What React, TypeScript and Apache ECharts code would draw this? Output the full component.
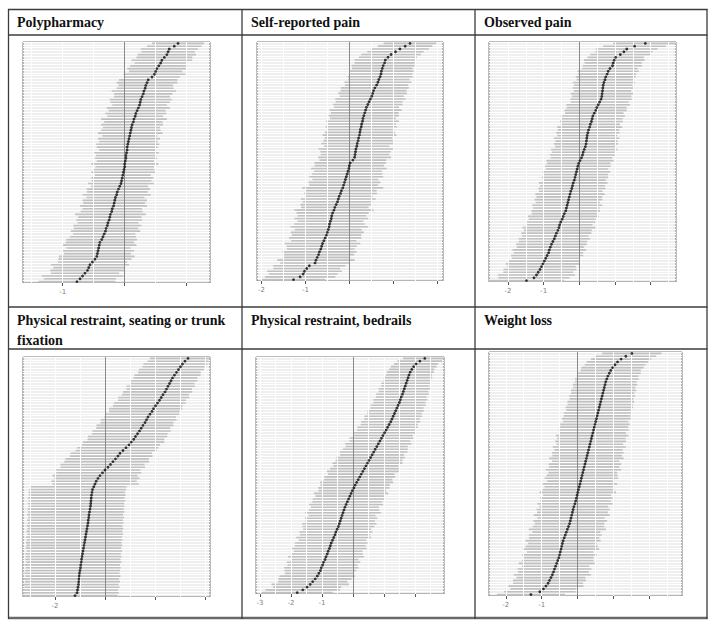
import React, { useEffect, useRef } from "react";
import * as echarts from "echarts";

// ---------- titles ----------
const titles = [
  "Polypharmacy",
  "Self-reported pain",
  "Observed pain",
  "Physical restraint, seating or trunk\nfixation",
  "Physical restraint, bedrails",
  "Weight loss",
];

// ---------- data (rows ordered bottom -> top) ----------
const est1 = [-0.77,-0.72,-0.68,-0.64,-0.6,-0.58,-0.56,-0.52,-0.48,-0.45,-0.44,-0.43,-0.42,-0.41,-0.4,-0.37,-0.35,-0.33,-0.31,-0.3,-0.28,-0.27,-0.25,-0.24,-0.23,-0.21,-0.2,-0.18,-0.17,-0.16,-0.15,-0.13,-0.12,-0.1,-0.08,-0.06,-0.05,-0.04,-0.03,-0.02,-0.01,0,0,0.01,0.02,0.02,0.03,0.04,0.04,0.05,0.06,0.07,0.08,0.09,0.1,0.11,0.12,0.14,0.15,0.17,0.18,0.2,0.22,0.24,0.25,0.26,0.28,0.3,0.31,0.33,0.34,0.36,0.38,0.44,0.48,0.5,0.52,0.55,0.58,0.6,0.64,0.68,0.7,0.72,0.8,0.86];
const hw1 = [0.62,0.58,0.66,0.55,0.6,0.57,0.63,0.56,0.59,0.61,0.54,0.58,0.52,0.6,0.55,0.57,0.53,0.5,0.56,0.52,0.55,0.49,0.53,0.51,0.57,0.5,0.48,0.54,0.5,0.52,0.47,0.55,0.49,0.51,0.46,0.53,0.48,0.5,0.45,0.52,0.49,0.47,0.54,0.46,0.5,0.48,0.52,0.45,0.49,0.51,0.47,0.5,0.44,0.52,0.48,0.46,0.5,0.47,0.53,0.45,0.49,0.46,0.51,0.44,0.48,0.5,0.45,0.47,0.52,0.46,0.44,0.49,0.47,0.45,0.5,0.43,0.48,0.46,0.42,0.49,0.45,0.47,0.43,0.46,0.44,0.42];

const est2 = [-1.27,-1.12,-1.05,-1.02,-0.97,-0.91,-0.78,-0.76,-0.73,-0.7,-0.68,-0.65,-0.63,-0.61,-0.58,-0.55,-0.52,-0.5,-0.48,-0.46,-0.45,-0.43,-0.41,-0.4,-0.38,-0.35,-0.33,-0.3,-0.27,-0.25,-0.23,-0.2,-0.18,-0.15,-0.13,-0.11,-0.09,-0.07,-0.05,-0.03,-0.01,0,0.02,0.08,0.12,0.13,0.14,0.15,0.17,0.18,0.2,0.21,0.23,0.24,0.25,0.27,0.28,0.3,0.31,0.33,0.35,0.37,0.39,0.42,0.45,0.48,0.51,0.53,0.55,0.58,0.62,0.65,0.67,0.7,0.72,0.73,0.75,0.77,0.8,0.82,0.88,0.95,1.05,1.15,1.27,1.38];
const hw2 = [0.72,0.8,0.78,0.85,0.76,0.82,0.79,0.88,0.75,0.81,0.84,0.77,0.8,0.86,0.74,0.82,0.79,0.83,0.76,0.88,0.8,0.75,0.84,0.78,0.82,0.9,0.77,0.81,0.79,0.85,0.76,0.83,0.8,0.92,0.78,0.82,0.75,0.84,0.8,0.77,0.86,0.79,0.81,0.76,0.83,0.78,0.8,0.85,0.74,0.82,0.79,0.77,0.84,0.8,0.76,0.81,0.78,0.83,0.75,0.8,0.77,0.82,0.74,0.79,0.76,0.8,0.73,0.78,0.75,0.77,0.72,0.76,0.7,0.74,0.71,0.73,0.69,0.72,0.68,0.7,0.66,0.68,0.64,0.66,0.62,0.6];

const est3 = [-1.48,-1.27,-1.2,-1.15,-1.1,-1.06,-1.02,-0.98,-0.94,-0.9,-0.86,-0.84,-0.81,-0.78,-0.74,-0.7,-0.67,-0.64,-0.6,-0.57,-0.55,-0.52,-0.48,-0.45,-0.42,-0.38,-0.36,-0.34,-0.32,-0.3,-0.28,-0.26,-0.24,-0.21,-0.19,-0.17,-0.14,-0.12,-0.1,-0.08,-0.06,-0.04,-0.02,0.02,0.06,0.09,0.11,0.14,0.17,0.19,0.2,0.21,0.22,0.24,0.26,0.29,0.31,0.34,0.36,0.38,0.42,0.46,0.49,0.53,0.57,0.61,0.63,0.64,0.65,0.66,0.67,0.69,0.72,0.74,0.78,0.81,0.86,0.93,0.95,0.98,1.02,1.15,1.25,1.33,1.55,1.85];
const hw3 = [1.05,1.0,1.08,0.98,1.02,0.96,1.04,0.99,0.95,1.01,0.97,1.03,0.94,0.99,0.96,1.0,0.93,0.98,0.95,1.02,0.92,0.97,0.94,0.99,0.91,0.96,0.93,0.98,0.9,0.95,0.92,0.97,0.89,0.94,0.91,0.96,0.88,0.93,0.9,0.95,0.87,0.92,0.89,0.94,0.86,0.91,0.88,0.93,0.85,0.9,0.87,0.92,0.84,0.89,0.86,0.91,0.83,0.88,0.85,0.9,0.82,0.87,0.84,0.89,0.81,0.86,0.83,0.88,0.8,0.85,0.82,0.87,0.79,0.84,0.81,0.86,0.78,0.83,0.8,0.85,0.79,0.84,0.8,0.86,0.88,0.9];

const est4 = [-1.2,-1.12,-1.1,-1.08,-1.06,-1.05,-1.04,-1.03,-1.02,-1.0,-0.98,-0.97,-0.95,-0.94,-0.92,-0.9,-0.88,-0.86,-0.84,-0.82,-0.8,-0.78,-0.76,-0.74,-0.72,-0.7,-0.68,-0.67,-0.65,-0.64,-0.62,-0.6,-0.58,-0.57,-0.56,-0.55,-0.54,-0.52,-0.5,-0.45,-0.4,-0.35,-0.28,-0.2,-0.1,0,0.12,0.22,0.32,0.42,0.52,0.6,0.72,0.84,0.96,1.05,1.15,1.22,1.3,1.38,1.45,1.52,1.6,1.66,1.72,1.8,1.88,1.94,2.02,2.1,2.18,2.25,2.32,2.4,2.46,2.52,2.58,2.64,2.7,2.78,2.86,2.94,3.02,3.1,3.2,3.32];
// seating / trunk fixation intervals are asymmetric: distance below and above the estimate
const low4 = [2.1,2.13,2.18,2.14,2.2,2.15,2.2,2.15,2.2,2.2,2.19,2.24,2.2,2.25,2.24,2.28,2.25,2.31,2.3,2.34,2.32,2.37,2.35,2.4,2.38,2.43,2.41,2.45,2.43,2.47,2.45,2.5,2.48,2.52,2.49,2.53,2.5,2.54,2.53,2.55,1.7,1.8,1.75,1.9,1.85,1.95,1.9,2.0,1.95,2.0,1.92,1.98,1.9,1.95,1.88,1.93,1.85,1.9,1.82,1.88,1.8,1.86,1.78,1.83,1.75,1.8,1.72,1.78,1.7,1.74,1.66,1.72,1.64,1.68,1.6,1.66,1.58,1.62,1.56,1.6,1.54,1.58,1.52,1.56,1.5,1.52];
const high4 = [1.7,1.67,1.62,1.66,1.6,1.65,1.6,1.65,1.6,1.6,1.61,1.57,1.6,1.56,1.58,1.53,1.56,1.51,1.53,1.48,1.5,1.46,1.48,1.43,1.45,1.4,1.42,1.39,1.41,1.37,1.39,1.35,1.36,1.33,1.36,1.33,1.36,1.32,1.34,1.31,1.75,1.62,1.66,1.5,1.55,1.42,1.48,1.36,1.44,1.33,1.38,1.28,1.35,1.3,1.24,1.32,1.22,1.27,1.2,1.25,1.16,1.22,1.14,1.2,1.12,1.17,1.1,1.15,1.08,1.13,1.06,1.12,1.04,1.09,1.02,1.08,1.0,1.06,0.99,1.04,0.97,1.02,0.96,1.0,0.95,0.9];

const est5 = [-1.8,-1.62,-1.48,-1.38,-1.3,-1.22,-1.15,-1.1,-1.05,-1.02,-0.98,-0.95,-0.9,-0.87,-0.83,-0.8,-0.76,-0.73,-0.7,-0.66,-0.62,-0.58,-0.55,-0.51,-0.47,-0.44,-0.41,-0.38,-0.35,-0.32,-0.29,-0.26,-0.22,-0.18,-0.14,-0.1,-0.06,-0.02,0.03,0.07,0.12,0.17,0.22,0.27,0.32,0.37,0.42,0.47,0.52,0.57,0.62,0.67,0.72,0.77,0.82,0.87,0.92,0.97,1.02,1.07,1.12,1.17,1.22,1.26,1.3,1.34,1.38,1.42,1.46,1.5,1.53,1.56,1.6,1.63,1.66,1.69,1.72,1.75,1.78,1.81,1.85,1.9,1.96,2.04,2.16,2.32];
const hw5 = [1.15,1.2,1.1,1.25,1.12,1.18,1.22,1.1,1.16,1.2,1.13,1.19,1.08,1.22,1.15,1.11,1.2,1.14,1.17,1.09,1.21,1.13,1.18,1.1,1.16,1.2,1.12,1.17,1.08,1.22,1.14,1.1,1.19,1.13,1.16,1.11,1.2,1.09,1.15,1.12,1.18,1.1,1.14,1.07,1.16,1.11,1.05,1.13,1.08,1.1,1.03,1.09,1.05,1.0,1.07,0.98,1.03,0.96,1.0,0.94,0.98,0.92,0.95,0.9,0.93,0.88,0.91,0.86,0.89,0.84,0.87,0.82,0.85,0.8,0.83,0.78,0.8,0.76,0.78,0.74,0.76,0.73,0.74,0.71,0.72,0.7];

const est6 = [-1.3,-1.05,-0.95,-0.88,-0.82,-0.78,-0.74,-0.7,-0.67,-0.64,-0.61,-0.58,-0.55,-0.52,-0.5,-0.48,-0.46,-0.44,-0.42,-0.4,-0.37,-0.34,-0.31,-0.28,-0.25,-0.22,-0.2,-0.18,-0.16,-0.14,-0.12,-0.1,-0.07,-0.05,-0.03,-0.01,0.01,0.03,0.05,0.07,0.09,0.11,0.13,0.15,0.17,0.19,0.21,0.23,0.25,0.27,0.29,0.31,0.33,0.35,0.37,0.39,0.41,0.43,0.45,0.47,0.49,0.51,0.53,0.55,0.57,0.59,0.61,0.63,0.65,0.67,0.69,0.71,0.73,0.75,0.77,0.79,0.82,0.85,0.89,0.93,0.98,1.05,1.12,1.22,1.35,1.52];
const hw6 = [0.95,1.0,0.92,1.05,0.98,1.02,0.96,1.08,0.99,1.03,0.94,1.06,1.0,0.97,1.04,0.93,1.07,1.01,0.96,1.05,0.98,1.02,0.95,1.08,1.0,0.97,1.03,0.94,1.06,0.99,1.02,0.96,1.05,0.98,1.01,0.95,1.07,1.0,0.97,1.04,0.93,1.03,0.99,0.96,1.05,0.98,1.01,0.94,1.04,0.97,1.0,0.95,1.02,0.93,0.99,0.96,1.01,0.92,0.98,0.95,0.97,0.91,0.96,0.93,0.95,0.9,0.94,0.91,0.93,0.89,0.92,0.88,0.91,0.87,0.9,0.86,0.89,0.85,0.88,0.84,0.87,0.85,0.86,0.84,0.85,0.83];

// ---------- axis ticks / labels ----------
const ticks1 = [-1, 0, 1];
const labels1 = ["-1"];
const grid1 = [-1.5, -1, -0.5, 0.5, 1];
const ticks2 = [-2, -1, 0, 1, 2];
const labels2 = ["-2", "-1"];
const grid2 = [-2, -1.5, -1, -0.5, 0.5, 1, 1.5, 2];
const ticks3 = [-2, -1, 0, 1, 2];
const labels3 = ["-2", "-1"];
const grid3 = [-2, -1.5, -1, -0.5, 0.5, 1, 1.5, 2, 2.5];
const ticks4 = [-2, 0, 2, 4];
const labels4 = ["-2"];
const grid4 = [-3, -2, -1, 1, 2, 3, 4];
const ticks5 = [-3, -2, -1, 0, 1, 2];
const labels5 = ["-3", "-2", "-1"];
const grid5 = [-3, -2.5, -2, -1.5, -1, -0.5, 0.5, 1, 1.5, 2, 2.5];
const ticks6 = [-2, -1, 0, 1, 2];
const labels6 = ["-2", "-1"];
const grid6 = [-2, -1.5, -1, -0.5, 0.5, 1, 1.5, 2, 2.5];

const panels = [
  { est: est1, lw: hw1, hi: hw1, ticks: ticks1, labels: labels1, gl: grid1, min: -1.64, max: 1.376, box: [23, 42, 187, 241] },
  { est: est2, lw: hw2, hi: hw2, ticks: ticks2, labels: labels2, gl: grid2, min: -2.1, max: 2.13, box: [257, 42, 186, 239] },
  { est: est3, lw: hw3, hi: hw3, ticks: ticks3, labels: labels3, gl: grid3, min: -2.53, max: 2.71, box: [489, 42, 187, 240] },
  { est: est4, lw: low4, hi: high4, ticks: ticks4, labels: labels4, gl: grid4, min: -3.28, max: 4.2, box: [23, 357, 187, 240] },
  { est: est5, lw: hw5, hi: hw5, ticks: ticks5, labels: labels5, gl: grid5, min: -3.13, max: 2.94, box: [256, 357, 188, 237] },
  { est: est6, lw: hw6, hi: hw6, ticks: ticks6, labels: labels6, gl: grid6, min: -2.47, max: 2.92, box: [489, 352, 193, 244] },
];

const titlePos = [
  [17, 22], [251, 22], [484, 22], [17, 330], [251, 320], [484, 320],
];

export default function App() {
  const ref = useRef<HTMLDivElement>(null);
  useEffect(() => {
    document.body.style.margin = "0";
    const chart = echarts.init(ref.current!, null, { renderer: "svg" });
    const grids: any[] = [];
    const xAxes: any[] = [];
    const yAxes: any[] = [];
    const series: any[] = [];
    panels.forEach((p, i) => {
      const [l, t, w, h] = p.box;
      const rows = p.est.map((_, k) => String(k + 1));
      grids.push({
        left: l, top: t, width: w, height: h, show: true,
        backgroundColor: "#efefef", borderColor: "#7a7a7a", borderWidth: 1,
      });
      xAxes.push({
        type: "value", gridIndex: i, min: p.min, max: p.max,
        axisLine: { show: false },
        axisTick: { show: true, customValues: p.ticks, length: 3, lineStyle: { color: "#555", width: 1 } },
        axisLabel: {
          customValues: p.ticks, margin: 5,
          formatter: (v: number) => (p.labels.includes(String(v)) ? "{t|" + String(v) + "}" : ""),
          rich: { t: { fontSize: 7, color: "#808080", fontFamily: "DejaVu Sans" } },
        },
        splitLine: { show: false },
      });
      yAxes.push({
        type: "category", gridIndex: i, data: rows, boundaryGap: true,
        axisLine: { show: false }, axisTick: { show: false }, axisLabel: { show: false },
        splitLine: { show: true, interval: 0, lineStyle: { color: "#ffffff", width: 1 } },
      });
      // vertical grid lines
      series.push({
        type: "line", xAxisIndex: i, yAxisIndex: i, data: [], z: 1, silent: true,
        markLine: {
          silent: true, symbol: ["none", "none"], label: { show: false },
          lineStyle: { color: "#ffffff", width: 1, type: "solid" },
          data: p.gl.map((v) => ({ xAxis: v })),
        },
      });
      // interval bars
      series.push({
        type: "custom", xAxisIndex: i, yAxisIndex: i, z: 3, clip: true,
        data: p.est.map((e, k) => [e - p.lw[k], e + p.hi[k], k]),
        renderItem: (params: any, api: any) => {
          const y = api.value(2);
          const a = api.coord([api.value(0), y]);
          const b = api.coord([api.value(1), y]);
          const bh = api.size([0, 1])[1] * 0.58;
          return {
            type: "rect",
            shape: { x: a[0], y: a[1] - bh / 2, width: b[0] - a[0], height: bh },
            style: { fill: "#c0c0c0" },
          };
        },
      });
      // zero reference line
      series.push({
        type: "line", xAxisIndex: i, yAxisIndex: i, data: [], z: 4, silent: true,
        markLine: {
          silent: true, symbol: ["none", "none"], label: { show: false },
          lineStyle: { color: "#8a8a8a", width: 1, type: "solid" },
          data: [{ xAxis: 0 }],
        },
      });
      // estimates
      series.push({
        type: "scatter", xAxisIndex: i, yAxisIndex: i, z: 5, symbolSize: 2.8,
        itemStyle: { color: "#0a0a0a" },
        data: p.est.map((e, k) => [e, k]),
      });
    });

    const stroke = "#3c3c3c";
    const graphic: any[] = [
      { type: "rect", shape: { x: 0, y: 0, width: 716, height: 627 }, style: { fill: "#ffffff" }, z: -10 },
      { type: "line", shape: { x1: 8, y1: 9.5, x2: 707.5, y2: 9.5 }, style: { stroke, lineWidth: 1.3 } },
      { type: "line", shape: { x1: 8, y1: 35, x2: 707.5, y2: 35 }, style: { stroke, lineWidth: 1.3 } },
      { type: "line", shape: { x1: 8, y1: 307, x2: 707.5, y2: 307 }, style: { stroke, lineWidth: 1.3 } },
      { type: "line", shape: { x1: 8, y1: 349, x2: 707.5, y2: 349 }, style: { stroke, lineWidth: 1.3 } },
      { type: "line", shape: { x1: 8, y1: 618, x2: 707.5, y2: 618 }, style: { stroke: "#6a6a6a", lineWidth: 2.4 } },
      { type: "line", shape: { x1: 8.5, y1: 9, x2: 8.5, y2: 619 }, style: { stroke, lineWidth: 1.3 } },
      { type: "line", shape: { x1: 242, y1: 9, x2: 242, y2: 619 }, style: { stroke, lineWidth: 1.3 } },
      { type: "line", shape: { x1: 475, y1: 9, x2: 475, y2: 619 }, style: { stroke, lineWidth: 1.3 } },
      { type: "line", shape: { x1: 707, y1: 9, x2: 707, y2: 619 }, style: { stroke, lineWidth: 1.3 } },
    ];
    titles.forEach((tt, i) => {
      graphic.push({
        type: "text", x: titlePos[i][0], y: titlePos[i][1],
        style: {
          text: tt, fill: "#111", font: 'bold 14px "Liberation Serif"',
          verticalAlign: "middle", lineHeight: 20,
        },
      });
    });

    chart.setOption({
      animation: false,
      backgroundColor: "#ffffff",
      grid: grids, xAxis: xAxes, yAxis: yAxes, series, graphic,
    });
    return () => chart.dispose();
  }, []);
  return <div ref={ref} style={{ width: 716, height: 627 }} />;
}
